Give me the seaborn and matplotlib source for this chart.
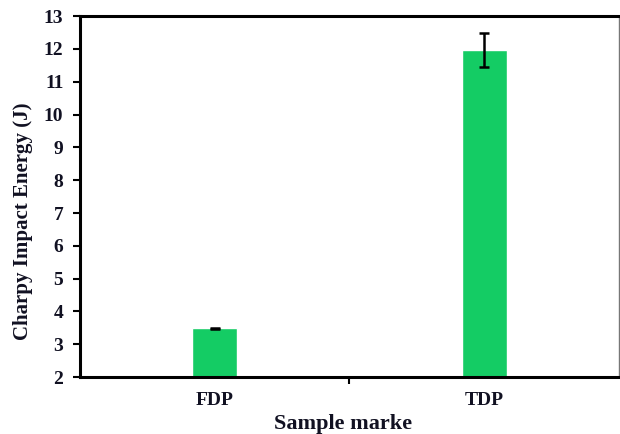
import matplotlib
matplotlib.use("Agg")
import matplotlib.pyplot as plt
import seaborn as sns
import pandas as pd
from matplotlib.ticker import FixedLocator

samples = ["FDP", "TDP"]
energy = [3.49, 11.97]
errors = [0.02, 0.52]
yticks = list(range(2, 14))

sns.set_theme(style="white", rc={"text.color": "black", "axes.labelcolor": "black",
                                  "xtick.color": "black", "ytick.color": "black"})
plt.rcParams["font.family"] = ["Liberation Serif", "DejaVu Serif"]
plt.rcParams["font.weight"] = "bold"

df = pd.DataFrame({"Sample": samples, "Energy": energy})

fig = plt.figure(figsize=(6.2, 4.34), dpi=100)
ax = fig.add_axes([0.129, 0.131, 0.869, 0.832])

sns.barplot(data=df, x="Sample", y="Energy", color="#14CC64", saturation=1,
            width=0.167, errorbar=None, ax=ax)
ax.errorbar(x=range(len(samples)), y=energy, yerr=errors, fmt="none",
            ecolor="black", elinewidth=1.8, capsize=3.5, capthick=1.8)

ax.set_ylim(2, 13)
ax.set_xlim(-0.5, 1.5)
ax.set_yticks(yticks)
ax.set_yticklabels([str(t) for t in yticks], fontsize=14, fontweight="bold", color="#111122")
ax.set_xticks(range(len(samples)))
ax.set_xticklabels(samples, fontsize=14, fontweight="bold", color="#111122")
ax.tick_params(axis="x", which="major", length=0, pad=11)
ax.xaxis.set_minor_locator(FixedLocator([0.5]))
ax.tick_params(axis="x", which="minor", length=5, width=1.5, direction="out", bottom=True, color="black")
ax.tick_params(axis="y", length=5, width=1.5, direction="out", left=True, pad=7, color="black")

ax.set_xlabel("Sample marke", fontsize=16, fontweight="bold", color="#111122")
ax.set_ylabel("Charpy Impact Energy (J)", fontsize=15, fontweight="bold", color="#111122")
ax.xaxis.set_label_coords(0.488, -0.102)
ax.yaxis.set_label_coords(-0.088, 0.432)

for side in ["left", "bottom", "top"]:
    ax.spines[side].set_visible(True)
    ax.spines[side].set_color("black")
    ax.spines[side].set_linewidth(2.2)
ax.spines["right"].set_visible(True)
ax.spines["right"].set_color("#777777")
ax.spines["right"].set_linewidth(1.0)

fig.savefig("out.png", dpi=100, facecolor="white")
